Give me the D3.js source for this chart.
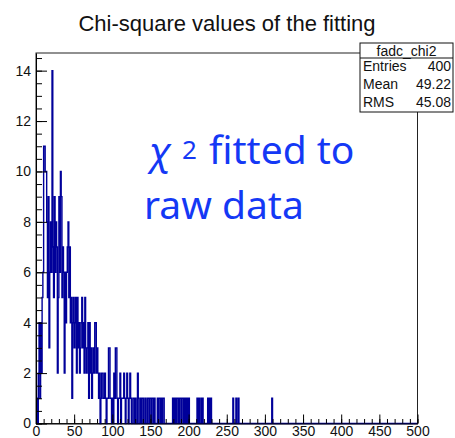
<!DOCTYPE html>
<html>
<head>
<meta charset="utf-8">
<script src="https://cdn.jsdelivr.net/npm/d3@7"></script>
<style>
  html, body { margin: 0; padding: 0; background: #fff; }
  svg { display: block; }
  text { font-family: "Liberation Sans", Arial, Helvetica, sans-serif; }
</style>
</head>
<body>
<svg id="chart" width="455" height="438"></svg>
<script>
// Histogram of fit chi-square values: 500 bins of width 1 on [0, 500].
// Counts for bins 0..319; all bins above 319 are empty.
const binCounts = [
  0,1,0,2,4,1,4,2,5,6,
  11,11,10,10,8,5,9,3,6,8,
  6,14,7,5,9,6,8,7,2,5,
  9,6,10,9,5,7,6,2,6,4,
  6,7,8,5,7,4,5,1,4,5,
  3,4,5,2,5,3,4,2,3,4,
  5,3,4,2,5,3,2,3,4,1,
  4,2,3,1,2,3,2,4,4,2,
  3,2,1,2,0,1,2,2,1,1,
  2,1,0,1,1,3,3,1,1,0,
  1,0,2,1,3,3,1,0,1,1,
  2,0,1,1,1,2,1,0,1,2,
  1,0,1,2,1,0,0,1,1,0,
  1,0,0,2,1,0,0,1,0,1,
  1,0,0,1,0,0,1,1,0,1,
  1,0,1,1,0,1,0,0,0,1,
  0,1,1,0,1,0,1,1,0,0,
  0,0,0,0,0,0,0,0,0,1,
  0,1,0,1,0,1,1,0,1,1,
  0,1,1,0,1,0,1,0,1,0,
  1,0,0,0,0,0,0,0,0,0,
  0,1,0,1,0,0,1,0,1,0,
  0,0,0,0,0,1,0,1,0,1,
  0,0,0,0,0,0,0,0,0,0,
  0,0,0,0,0,0,0,0,0,0,
  0,0,0,0,0,0,0,0,1,0,
  0,0,1,0,0,1,0,0,0,0,
  0,0,0,0,0,0,0,0,0,0,
  0,0,0,0,0,0,0,0,0,0,
  0,0,0,0,0,0,0,0,0,0,
  0,0,0,0,0,0,0,0,0,1,
  0,0,0,0,0,0,0,0,0,0
];
const nBins = 500;
const xRange = [0, 500];
const yMax = 14.7;

const xTickValues = [0, 50, 100, 150, 200, 250, 300, 350, 400, 450, 500];
const yTickValues = [0, 2, 4, 6, 8, 10, 12, 14];

const titleText = "Chi-square values of the fitting";
const statsName = "fadc_chi2";
const statsLabels = ["Entries", "Mean", "RMS"];
const statsValues = ["400", "49.22", "45.08"];

const svg = d3.select("#chart");

// Frame geometry
const frame = { left: 36, right: 417.5, top: 53, bottom: 423.5 };

const x = d3.scaleLinear().domain(xRange).range([frame.left, frame.right]);
const y = d3.scaleLinear().domain([0, yMax]).range([frame.bottom, frame.top]);

// Frame box
svg.append("rect")
  .attr("x", frame.left).attr("y", frame.top)
  .attr("width", frame.right - frame.left)
  .attr("height", frame.bottom - frame.top)
  .attr("fill", "none").attr("stroke", "#222").attr("stroke-width", 1);

// Histogram outline (step line through every bin)
const binW = (xRange[1] - xRange[0]) / nBins;
const counts = d3.range(nBins).map(i => binCounts[i] || 0);
const pts = counts.map((c, i) => [xRange[0] + i * binW, c]);
pts.push([xRange[1], counts[nBins - 1]]);
const step = d3.line()
  .x(d => x(d[0])).y(d => y(d[1]))
  .curve(d3.curveStepAfter);
svg.append("path")
  .attr("d", step(pts))
  .attr("fill", "none")
  .attr("stroke", "#00009a")
  .attr("stroke-width", 1.4);

const tickFont = g => g.selectAll("text")
  .attr("font-size", 14).attr("fill", "#111")
  .style("font-family", "Liberation Sans, Arial, sans-serif");

// Y axis: major + minor ticks pointing into the frame
const yMinor = d3.range(0, yMax + 1e-9, 0.5);
svg.append("g")
  .attr("transform", `translate(${frame.left},0)`)
  .call(d3.axisLeft(y).tickValues(yMinor).tickSize(-6).tickFormat(""))
  .call(g => g.select(".domain").remove())
  .call(g => g.selectAll("line").attr("stroke", "#000"));
svg.append("g")
  .attr("transform", `translate(${frame.left},0)`)
  .call(d3.axisLeft(y).tickValues(yTickValues).tickSizeInner(-11).tickSizeOuter(0).tickPadding(5).tickFormat(d3.format("d")))
  .call(g => g.select(".domain").attr("stroke", "#000"))
  .call(g => g.selectAll("line").attr("stroke", "#000"))
  .call(tickFont);

// X axis
const xMinor = d3.range(0, 500.1, 10);
svg.append("g")
  .attr("transform", `translate(0,${frame.bottom})`)
  .call(d3.axisBottom(x).tickValues(xMinor).tickSize(-4.5).tickFormat(""))
  .call(g => g.select(".domain").remove())
  .call(g => g.selectAll("line").attr("stroke", "#000"));
svg.append("g")
  .attr("transform", `translate(0,${frame.bottom})`)
  .call(d3.axisBottom(x).tickValues(xTickValues).tickSizeInner(-9).tickSizeOuter(0).tickPadding(2.5).tickFormat(d3.format("d")))
  .call(g => g.select(".domain").attr("stroke", "#000"))
  .call(g => g.selectAll("line").attr("stroke", "#000"))
  .call(tickFont);

// Title
svg.append("text")
  .attr("x", 227).attr("y", 31)
  .attr("text-anchor", "middle")
  .attr("font-size", 22)
  .attr("fill", "#111")
  .text(titleText);

// Statistics box
const sb = { x: 360, y: 43, w: 93, h: 69, head: 15 };
svg.append("rect")
  .attr("x", sb.x).attr("y", sb.y).attr("width", sb.w).attr("height", sb.h)
  .attr("fill", "#fff").attr("stroke", "#111").attr("stroke-width", 1);
svg.append("line")
  .attr("x1", sb.x).attr("x2", sb.x + sb.w)
  .attr("y1", sb.y + sb.head).attr("y2", sb.y + sb.head)
  .attr("stroke", "#111");
svg.append("text")
  .attr("x", sb.x + sb.w / 2).attr("y", 55.5)
  .attr("text-anchor", "middle").attr("font-size", 14).attr("fill", "#111")
  .text(statsName);
const rowY = [71, 89, 107];
statsLabels.forEach((lab, i) => {
  svg.append("text")
    .attr("x", sb.x + 3).attr("y", rowY[i])
    .attr("font-size", 14).attr("fill", "#111").text(lab);
  svg.append("text")
    .attr("x", sb.x + sb.w - 2).attr("y", rowY[i])
    .attr("text-anchor", "end")
    .attr("font-size", 14).attr("fill", "#111").text(statsValues[i]);
});

// Annotation
const noteFont = "'Noto Sans', 'DejaVu Sans', sans-serif";
const note = svg.append("g").attr("fill", "#1438f5");
note.append("text").attr("x", 149).attr("y", 165)
  .attr("font-size", 39).attr("font-style", "italic")
  .style("font-family", noteFont)
  .text("χ");
note.append("text").attr("x", 182).attr("y", 159)
  .attr("font-size", 26)
  .style("font-family", noteFont)
  .text("2");
note.append("text").attr("x", 209).attr("y", 164)
  .attr("font-size", 39)
  .style("font-family", noteFont)
  .text("fitted to");
note.append("text").attr("x", 144).attr("y", 219)
  .attr("font-size", 39)
  .style("font-family", noteFont)
  .text("raw data");
</script>
</body>
</html>
